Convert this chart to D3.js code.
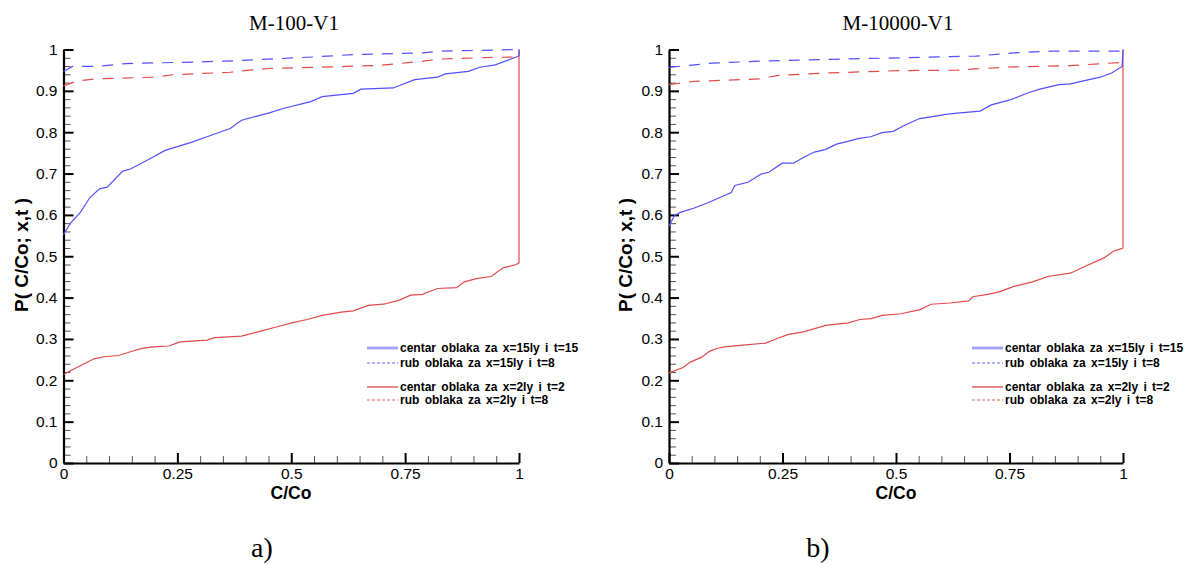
<!DOCTYPE html>
<html>
<head>
<meta charset="utf-8">
<script src="https://cdn.jsdelivr.net/npm/d3@7"></script>
<style>
  html, body { margin: 0; padding: 0; background: #fff; }
  svg { display: block; }
</style>
</head>
<body>
<svg id="chart" width="1189" height="565"></svg>
<script>
// ---------------- DATA ----------------
const panelTitles = ["M-100-V1", "M-10000-V1"];
const panelLetters = ["a)", "b)"];
const xTickValues = [0, 0.25, 0.5, 0.75, 1];
const xTickLabels = ["0", "0.25", "0.5", "0.75", "1"];
const yTickValues = [0, 0.1, 0.2, 0.3, 0.4, 0.5, 0.6, 0.7, 0.8, 0.9, 1];
const yTickLabels = ["0", "0.1", "0.2", "0.3", "0.4", "0.5", "0.6", "0.7", "0.8", "0.9", "1"];
const legendLabels = [
  "centar oblaka za x=15ly i t=15",
  "rub oblaka za x=15ly i t=8",
  "centar oblaka za x=2ly i t=2",
  "rub oblaka za x=2ly i t=8"
];

// Panel a) M-100-V1   [C/Co, P]
const aBlueCenter = [[0,0.553],[0.016,0.581],[0.037,0.606],[0.058,0.642],[0.079,0.663],[0.096,0.667],[0.130,0.706],[0.147,0.711],[0.197,0.740],[0.223,0.756],[0.282,0.776],[0.315,0.789],[0.366,0.809],[0.391,0.829],[0.450,0.846],[0.484,0.858],[0.543,0.874],[0.568,0.886],[0.636,0.894],[0.653,0.904],[0.724,0.907],[0.771,0.927],[0.821,0.933],[0.838,0.941],[0.889,0.947],[0.914,0.957],[0.948,0.963],[0.994,0.982],[1,0.985],[1,1]];
const aBlueEdge = [[0,0.947],[0.02,0.959],[0.07,0.959],[0.138,0.966],[0.30,0.970],[0.38,0.973],[0.55,0.982],[0.64,0.988],[0.79,0.992],[0.83,0.996],[1,1]];
const aRedCenter = [[0,0.214],[0.029,0.231],[0.067,0.252],[0.088,0.257],[0.121,0.260],[0.147,0.269],[0.172,0.277],[0.197,0.281],[0.231,0.283],[0.256,0.293],[0.315,0.297],[0.332,0.303],[0.391,0.307],[0.433,0.319],[0.467,0.329],[0.501,0.339],[0.535,0.347],[0.568,0.357],[0.610,0.365],[0.636,0.368],[0.669,0.381],[0.703,0.384],[0.737,0.394],[0.762,0.406],[0.788,0.408],[0.821,0.422],[0.863,0.424],[0.880,0.438],[0.906,0.446],[0.939,0.451],[0.965,0.472],[0.994,0.480],[1,0.484],[1,1]];
const aRedEdge = [[0,0.912],[0.03,0.924],[0.07,0.929],[0.197,0.933],[0.24,0.939],[0.366,0.945],[0.408,0.950],[0.45,0.954],[0.62,0.959],[0.70,0.962],[0.79,0.972],[0.83,0.977],[0.914,0.980],[0.99,0.982],[1,0.984]];

// Panel b) M-10000-V1
const bBlueCenter = [[0,0.573],[0.012,0.598],[0.025,0.606],[0.054,0.616],[0.087,0.630],[0.112,0.642],[0.137,0.654],[0.145,0.671],[0.174,0.679],[0.203,0.699],[0.220,0.703],[0.249,0.725],[0.274,0.725],[0.295,0.738],[0.320,0.752],[0.344,0.758],[0.369,0.771],[0.394,0.778],[0.419,0.785],[0.444,0.789],[0.469,0.799],[0.494,0.802],[0.519,0.817],[0.552,0.833],[0.577,0.837],[0.610,0.843],[0.635,0.846],[0.685,0.851],[0.710,0.866],[0.751,0.878],[0.793,0.896],[0.817,0.904],[0.859,0.915],[0.884,0.917],[0.925,0.927],[0.950,0.933],[0.975,0.943],[0.998,0.959],[1,1]];
const bBlueEdge = [[0,0.957],[0.095,0.967],[0.203,0.972],[0.344,0.976],[0.51,0.980],[0.676,0.984],[0.76,0.992],[0.842,0.996],[1,0.996],[1,1]];
const bRedCenter = [[0,0.218],[0.031,0.231],[0.047,0.244],[0.072,0.256],[0.089,0.270],[0.105,0.277],[0.122,0.281],[0.163,0.285],[0.213,0.290],[0.238,0.301],[0.263,0.311],[0.296,0.317],[0.321,0.325],[0.345,0.333],[0.395,0.339],[0.420,0.347],[0.445,0.349],[0.470,0.357],[0.511,0.361],[0.553,0.371],[0.577,0.384],[0.619,0.387],[0.660,0.392],[0.669,0.402],[0.702,0.408],[0.727,0.414],[0.760,0.427],[0.801,0.438],[0.834,0.451],[0.884,0.459],[0.917,0.476],[0.958,0.496],[0.979,0.512],[0.998,0.519],[1,0.52],[1,1]];
const bRedEdge = [[0,0.915],[0.054,0.923],[0.203,0.929],[0.237,0.937],[0.344,0.943],[0.51,0.949],[0.635,0.950],[0.676,0.953],[0.76,0.958],[0.884,0.961],[1,0.969]];

const panelSeries = [
  [aRedCenter, aRedEdge, aBlueCenter, aBlueEdge],
  [bRedCenter, bRedEdge, bBlueCenter, bBlueEdge]
];

// ---------------- LAYOUT / STYLE ----------------
const panels = [
  { x0: 63.5, x1: 519, titleX: 294, xLabelX: 291, yLabelX: 27.5, letterX: 262, legX: 367 },
  { x0: 669, x1: 1123, titleX: 898, xLabelX: 896, yLabelX: 632, letterX: 818, legX: 972 }
];
const yTop = 49.5, yBot = 463;
const BLUE = "#5050ff", RED = "#e24a4a";
const seriesStyle = [
  { color: RED, dash: null, width: 1.2 },
  { color: RED, dash: "11,9", width: 1.2 },
  { color: BLUE, dash: null, width: 1.2 },
  { color: BLUE, dash: "11,9", width: 1.2 }
];
const legendStyle = [
  { color: "#a4a4ff", dash: null, width: 3 },
  { color: "#6a6aff", dash: "3,2", width: 1 },
  { color: "#e06060", dash: null, width: 1.5 },
  { color: "#e06060", dash: "3,2", width: 1 }
];
const legendRows = [348, 363, 387, 400];

const svg = d3.select("#chart");
const minorX = d3.range(0, 1.0001, 0.05).map(v => +v.toFixed(2)).filter(v => !xTickValues.includes(v));
const minorY = d3.range(0, 1.0001, 0.02).map(v => +v.toFixed(2)).filter(v => !yTickValues.map(d => +d.toFixed(2)).includes(v));

panels.forEach((p, i) => {
  const x = d3.scaleLinear().domain([0, 1]).range([p.x0, p.x1]);
  const y = d3.scaleLinear().domain([0, 1]).range([yBot, yTop]);
  const g = svg.append("g");

  // minor ticks
  g.append("g").attr("transform", `translate(0,${yBot})`)
    .call(d3.axisBottom(x).tickValues(minorX).tickSize(-7).tickFormat(""))
    .call(s => s.select(".domain").remove())
    .call(s => s.selectAll("line").attr("stroke", "#555").attr("stroke-width", 1));
  g.append("g").attr("transform", `translate(${p.x0},0)`)
    .call(d3.axisLeft(y).tickValues(minorY).tickSize(-7).tickFormat(""))
    .call(s => s.select(".domain").remove())
    .call(s => s.selectAll("line").attr("stroke", "#555").attr("stroke-width", 1));

  // major ticks
  g.append("g").attr("transform", `translate(0,${yBot})`)
    .call(d3.axisBottom(x).tickValues(xTickValues).tickSize(-10).tickFormat(""))
    .call(s => s.select(".domain").remove())
    .call(s => s.selectAll("line").attr("stroke", "#000").attr("stroke-width", 2));
  g.append("g").attr("transform", `translate(${p.x0},0)`)
    .call(d3.axisLeft(y).tickValues(yTickValues).tickSize(-10).tickFormat(""))
    .call(s => s.select(".domain").remove())
    .call(s => s.selectAll("line").attr("stroke", "#000").attr("stroke-width", 2));

  // labelled axes with domain lines
  g.append("g").attr("transform", `translate(0,${yBot})`)
    .call(d3.axisBottom(x).tickValues(xTickValues).tickSize(0).tickPadding(5)
      .tickFormat((d, k) => xTickLabels[k]))
    .call(s => s.select(".domain").attr("stroke", "#000").attr("stroke-width", 2.2))
    .call(s => s.selectAll("text").attr("font-family", "Liberation Sans, Arial, sans-serif")
      .attr("font-size", 15.5).attr("fill", "#000"));
  g.append("g").attr("transform", `translate(${p.x0},0)`)
    .call(d3.axisLeft(y).tickValues(yTickValues).tickSize(0).tickPadding(6)
      .tickFormat((d, k) => yTickLabels[k]))
    .call(s => s.select(".domain").attr("stroke", "#000").attr("stroke-width", 2.2))
    .call(s => s.selectAll("text").attr("font-family", "Liberation Sans, Arial, sans-serif")
      .attr("font-size", 15.5).attr("fill", "#000"));

  // series
  const line = d3.line().x(d => x(d[0])).y(d => y(d[1]));
  panelSeries[i].forEach((data, k) => {
    const st = seriesStyle[k];
    g.append("path").datum(data)
      .attr("d", line)
      .attr("fill", "none")
      .attr("stroke", st.color)
      .attr("stroke-width", st.width)
      .attr("stroke-dasharray", st.dash);
  });

  // title
  svg.append("text").attr("x", p.titleX).attr("y", 29.5)
    .attr("text-anchor", "middle")
    .attr("font-family", "Liberation Serif, Times New Roman, serif")
    .attr("font-size", 21).attr("fill", "#000")
    .text(panelTitles[i]);

  // axis titles
  svg.append("text").attr("x", p.xLabelX).attr("y", 499)
    .attr("text-anchor", "middle")
    .attr("font-family", "Liberation Sans, Arial, sans-serif")
    .attr("font-weight", "bold").attr("font-size", 17.5).attr("fill", "#000")
    .text("C/Co");
  svg.append("text")
    .attr("transform", `translate(${p.yLabelX},255) rotate(-90)`)
    .attr("text-anchor", "middle")
    .attr("font-family", "Liberation Sans, Arial, sans-serif")
    .attr("font-weight", "bold").attr("font-size", 19).attr("fill", "#000")
    .text("P( C/Co; x,t )");

  // panel letter
  svg.append("text").attr("x", p.letterX).attr("y", 557)
    .attr("text-anchor", "middle")
    .attr("font-family", "Liberation Serif, Times New Roman, serif")
    .attr("font-size", 28).attr("fill", "#000")
    .text(panelLetters[i]);

  // legend
  legendLabels.forEach((lab, k) => {
    const st = legendStyle[k];
    const ly = legendRows[k];
    svg.append("line").attr("x1", p.legX).attr("x2", p.legX + 31)
      .attr("y1", ly).attr("y2", ly)
      .attr("stroke", st.color).attr("stroke-width", st.width)
      .attr("stroke-dasharray", st.dash);
    svg.append("text").attr("x", p.legX + 33).attr("y", ly + 4)
      .attr("font-family", "Liberation Sans, Arial, sans-serif")
      .attr("font-weight", "bold").attr("font-size", 12)
      .attr("word-spacing", 2).attr("fill", "#000")
      .text(lab);
  });
});
</script>
</body>
</html>
